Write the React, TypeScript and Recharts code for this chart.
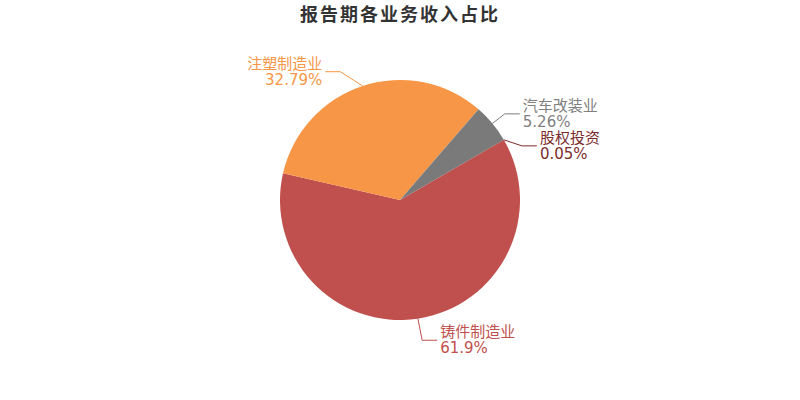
import React from 'react';
import { PieChart, Pie, Cell } from 'recharts';

const TITLE = '报告期各业务收入占比';
const categories = ['铸件制造业', '注塑制造业', '汽车改装业', '股权投资'];
const values = [61.9, 32.79, 5.26, 0.05];
const percentLabels = ['61.9%', '32.79%', '5.26%', '0.05%'];
const colors = ['#c0504d', '#f79646', '#7a7a7a', '#7b2c2a'];
const textColors = ['#c0504d', '#f79646', '#808080', '#7b2c2a'];

const data = categories.map((name, i) => ({ name, value: values[i] }));

const START = 30;
const END = START - 360;
const LEN = 15;
const LEN2 = 15;
const LABEL_H = 32;
const FONT = "'DejaVu Sans', 'Noto Sans CJK SC', sans-serif";

type Lab = { i: number; dir: number; x: number; y: number; x2: number; x3: number; x1: number; y1: number };

function layoutLabels(cx: number, cy: number, r: number): Lab[] {
  const total = values.reduce((a, b) => a + b, 0);
  let a = START;
  const items: Lab[] = values.map((v, i) => {
    const sweep = (v / total) * 360;
    const mid = a - sweep / 2;
    a -= sweep;
    const rad = (mid * Math.PI) / 180;
    const dx = Math.cos(rad);
    const dy = -Math.sin(rad);
    const dir = dx < 0 ? -1 : 1;
    const x1 = cx + r * dx;
    const y1 = cy + r * dy;
    const x2 = cx + (r + LEN) * dx;
    const y2 = cy + (r + LEN) * dy;
    const x3 = x2 + dir * LEN2;
    return { i, dir, x1, y1, x2, x3, x: x3 + dir * 5, y: y2 };
  });

  [-1, 1].forEach((side) => {
    const list = items.filter((it) => it.dir === side).sort((p, q) => p.y - q.y);
    const n = list.length;
    const shiftUp = (end: number, delta: number) => {
      for (let j = end; j >= 0; j--) {
        list[j].y -= delta;
        if (j > 0 && list[j].y > list[j - 1].y + LABEL_H) break;
      }
    };
    const shiftDown = (start: number, end: number, delta: number) => {
      for (let j = start; j < end; j++) {
        list[j].y += delta;
        if (j > start && j + 1 < end && list[j + 1].y > list[j].y + LABEL_H) {
          shiftUp(j, delta / 2);
          return;
        }
      }
      shiftUp(end - 1, delta / 2);
    };
    let lastY = 0;
    for (let i = 0; i < n; i++) {
      const delta = list[i].y - lastY;
      if (delta < 0) shiftDown(i, n, -delta);
      lastY = list[i].y + LABEL_H;
    }
    const changeX = (sub: Lab[], isDown: boolean) => {
      let lastDX = isDown ? Number.MAX_VALUE : 0;
      sub.forEach((it) => {
        const deltaY = Math.abs(it.y - cy);
        let deltaX =
          deltaY < r + LEN
            ? Math.sqrt((r + LEN + LEN2) * (r + LEN + LEN2) - deltaY * deltaY)
            : Math.abs(it.x - cx);
        if (isDown && deltaX >= lastDX) deltaX = lastDX - 10;
        if (!isDown && deltaX <= lastDX) deltaX = lastDX + 10;
        it.x = cx + deltaX * side;
        lastDX = deltaX;
      });
    };
    changeX(list.filter((it) => it.y < cy), false);
    changeX(list.filter((it) => it.y >= cy), true);
  });
  return items;
}

const renderLabel = (props: any) => {
  const { cx, cy, outerRadius, index } = props;
  const labs = layoutLabels(cx, cy, outerRadius);
  const l = labs[index];
  const dist = l.x2 - l.x3;
  const endX = l.x - l.dir * 3;
  const bendX = endX + dist;
  const anchor = l.dir < 0 ? 'end' : 'start';
  return (
    <g key={`lab-${index}`}>
      <polyline
        points={`${l.x1},${l.y1} ${bendX},${l.y} ${endX},${l.y}`}
        fill="none"
        stroke={colors[index]}
        strokeWidth={1}
      />
      <text x={l.x} y={l.y - 8} textAnchor={anchor} dominantBaseline="central" fill={textColors[index]} fontSize={15} fontFamily={FONT}>
        {categories[index]}
      </text>
      <text x={l.x} y={l.y + 8} textAnchor={anchor} dominantBaseline="central" fill={textColors[index]} fontSize={15} fontFamily={FONT}>
        {percentLabels[index]}
      </text>
    </g>
  );
};

export default function App() {
  return (
    <div style={{ position: 'fixed', left: 0, top: 0, width: 800, height: 400, background: '#fff' }}>
      <div
        style={{
          position: 'absolute',
          left: 0,
          top: 0,
          width: 800,
          height: 26,
          lineHeight: '26px',
          textAlign: 'center',
          fontFamily: "'Noto Sans CJK SC', sans-serif",
          fontWeight: 'bold',
          fontSize: 18,
          letterSpacing: 2,
          color: '#333',
          zIndex: 2,
        }}
      >
        {TITLE}
      </div>
      <PieChart width={800} height={400} margin={{ top: 0, right: 0, bottom: 0, left: 0 }}>
        <Pie
          data={data}
          dataKey="value"
          nameKey="name"
          cx={400}
          cy={200}
          outerRadius={120}
          startAngle={START}
          endAngle={END}
          stroke="none"
          label={renderLabel}
          labelLine={false}
          isAnimationActive={false}
        >
          {data.map((d, i) => (
            <Cell key={d.name} fill={colors[i]} />
          ))}
        </Pie>
      </PieChart>
    </div>
  );
}
